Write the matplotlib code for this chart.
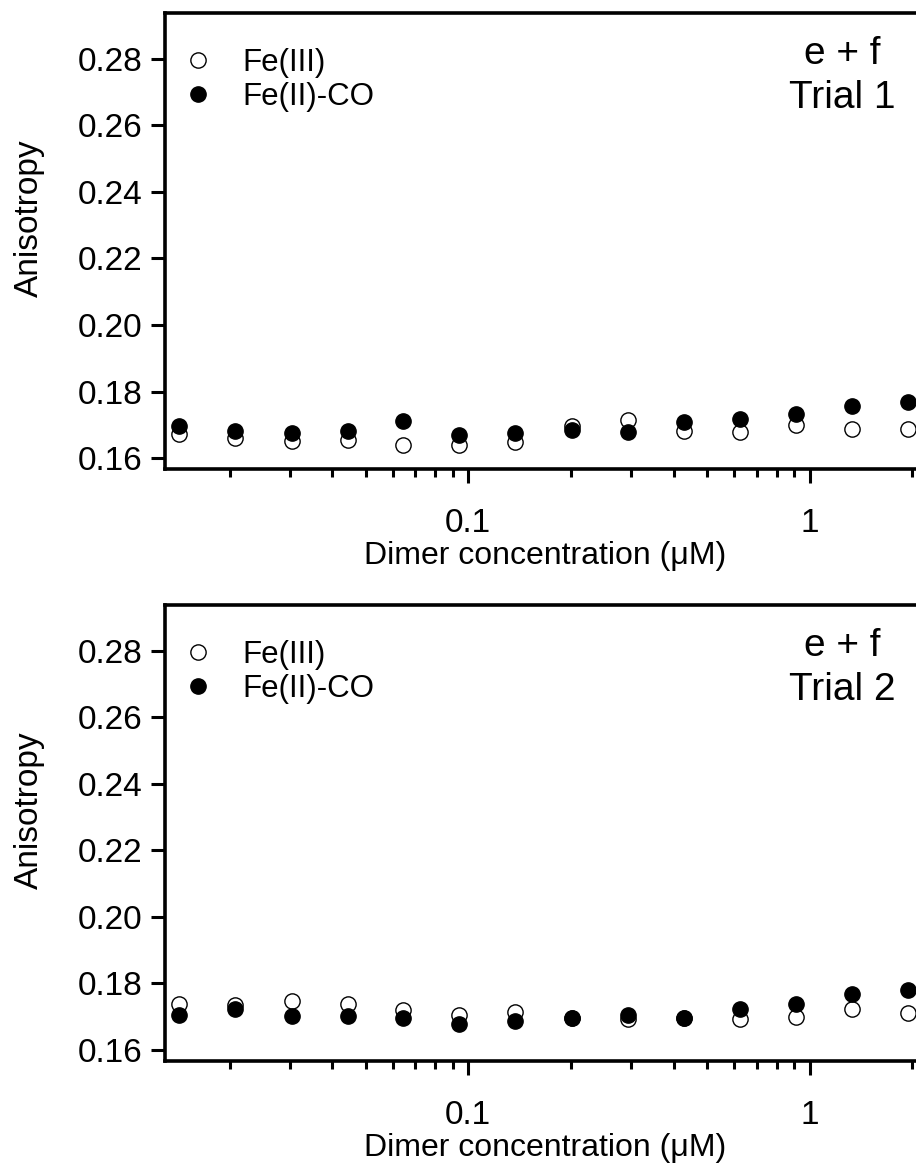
import numpy as np
import matplotlib.pyplot as plt
from matplotlib.ticker import LogLocator, NullFormatter, FixedLocator, FixedFormatter

plt.rcParams['font.family'] = ['Liberation Sans', 'DejaVu Sans']

# dimer concentration (uM)
conc = [0.0142, 0.0207, 0.0304, 0.0443, 0.0644, 0.0942, 0.1375,
        0.201, 0.293, 0.427, 0.625, 0.913, 1.333, 1.94]

# trial 1
t1_fe3 = [0.1673, 0.1660, 0.1653, 0.1656, 0.1641, 0.1641, 0.1649,
          0.1698, 0.1714, 0.1681, 0.1680, 0.1701, 0.1687, 0.1687]
t1_fe2co = [0.1698, 0.1683, 0.1675, 0.1682, 0.1713, 0.1671, 0.1677,
            0.1686, 0.1680, 0.1709, 0.1718, 0.1733, 0.1756, 0.1770]

# trial 2
t2_fe3 = [0.1737, 0.1734, 0.1747, 0.1737, 0.1719, 0.1706, 0.1715,
          0.1697, 0.1694, 0.1697, 0.1694, 0.1699, 0.1722, 0.1711]
t2_fe2co = [0.1704, 0.1722, 0.1701, 0.1701, 0.1697, 0.1679, 0.1686,
            0.1697, 0.1706, 0.1697, 0.1722, 0.1739, 0.1767, 0.1780]

y_ticks = [0.16, 0.18, 0.20, 0.22, 0.24, 0.26, 0.28]
x_ticks = [0.1, 1]
x_labels = ['0.1', '1']

FIG_H = 1167


def draw_panel(ax, fe3, fe2co, trial, top_px):
    ax.plot(conc, fe3, 'o', ms=11, mfc='white', mec='black', mew=1.0,
            ls='none', label='Fe(III)')
    ax.plot(conc, fe2co, 'o', ms=11, mfc='black', mec='black',
            ls='none', label='Fe(II)-CO')
    ax.set_xscale('log')
    ax.set_xlim(0.01292, 3.8)
    ax.set_ylim(0.1567, 0.2938)

    ax.xaxis.set_major_locator(FixedLocator(x_ticks))
    ax.xaxis.set_major_formatter(FixedFormatter(x_labels))
    ax.xaxis.set_minor_locator(LogLocator(base=10, subs=np.arange(2, 10)))
    ax.xaxis.set_minor_formatter(NullFormatter())
    ax.set_yticks(y_ticks)
    ax.set_yticklabels(['%.2f' % v for v in y_ticks])

    for s in ax.spines.values():
        s.set_linewidth(2.6)
    ax.tick_params(which='major', length=10, width=2.2, labelsize=24)
    ax.tick_params(axis='x', which='major', pad=18)
    ax.tick_params(axis='y', which='major', pad=6)
    ax.tick_params(which='minor', length=6, width=2.2)

    ax.set_xlabel('Dimer concentration (\u03bcM)', fontsize=23, labelpad=2)
    ax.xaxis.set_label_coords(0.451, -0.158)
    ax.set_ylabel('Anisotropy', fontsize=24)
    ax.yaxis.set_label_coords(-0.142, 0.55)

    ax.legend(loc='upper left', frameon=False, fontsize=22.5, handlelength=1.3,
              handletextpad=0.78, labelspacing=0.12, borderaxespad=0.0,
              borderpad=0.4, bbox_to_anchor=(0.0, 0.95))
    ax.text(842, FIG_H - (top_px + 63), 'e + f\nTrial %d' % trial,
            transform=None, fontsize=28, ha='center', va='center',
            linespacing=1.3)


fig = plt.figure(figsize=(9.16, 11.67), dpi=100)
ax1 = fig.add_axes([0.180, 0.598, 0.92, 0.391])
ax2 = fig.add_axes([0.180, 0.0908, 0.92, 0.391])

draw_panel(ax1, t1_fe3, t1_fe2co, 1, 13)
draw_panel(ax2, t2_fe3, t2_fe2co, 2, 605)

fig.savefig('out.png', dpi=100)
